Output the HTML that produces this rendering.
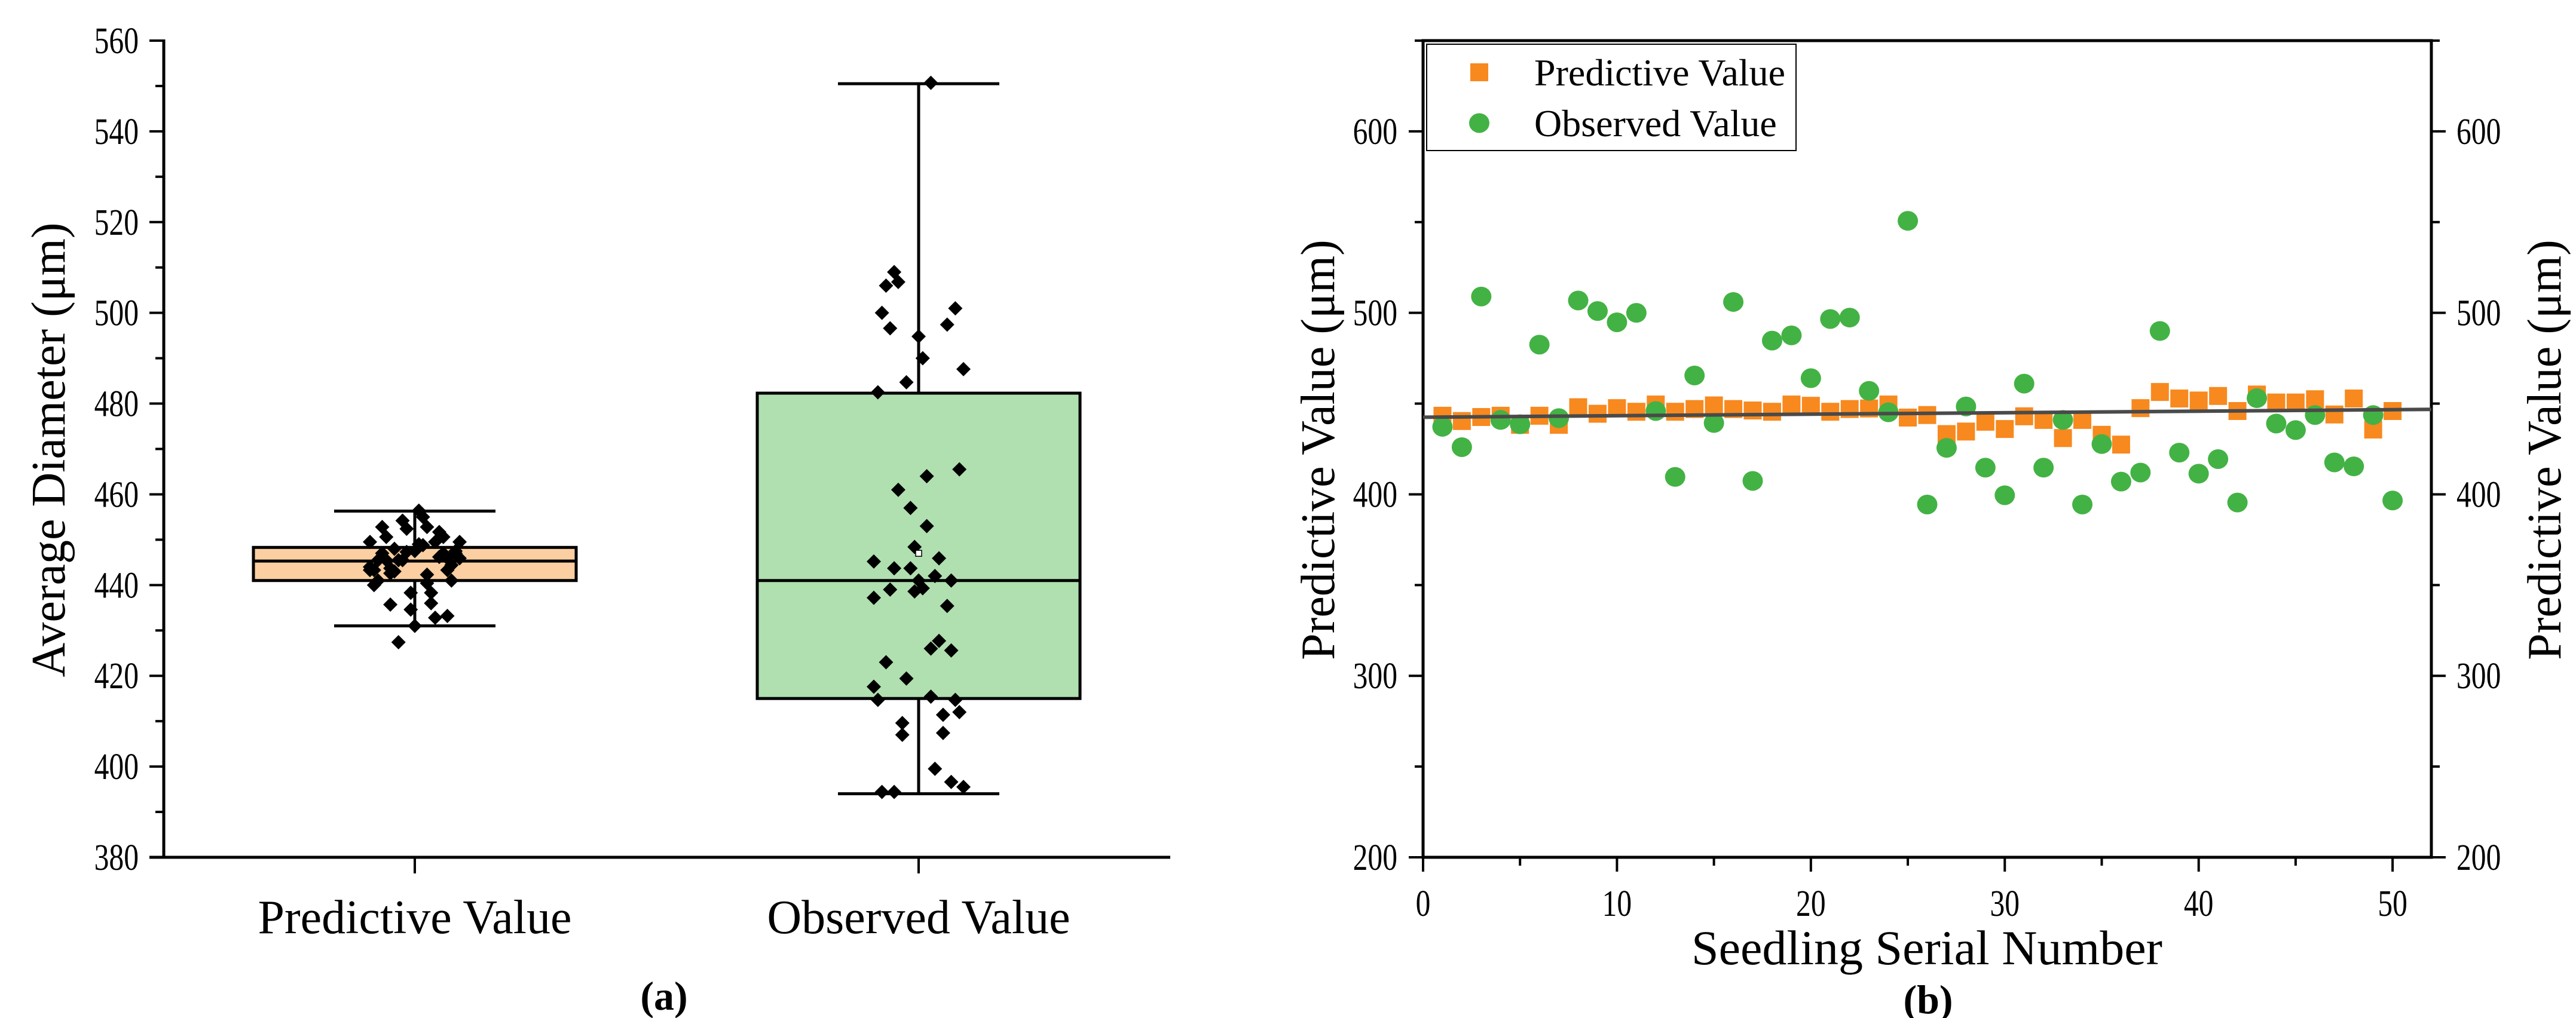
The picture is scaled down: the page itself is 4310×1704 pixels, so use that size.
<!DOCTYPE html>
<html><head><meta charset="utf-8"><style>
html,body{margin:0;padding:0;background:#fff;}
svg{display:block;font-family:"Liberation Serif",serif;}
</style></head><body>
<svg id="fig" width="4310" height="1704" viewBox="0 0 4310 1704" xmlns="http://www.w3.org/2000/svg">
<g id="pa"></g>
<g id="pb"></g>
</svg>
<script>
const serial = Array.from({length:50},(_,i)=>i+1);
const predictive = [443.3,440.4,442.6,443.3,438.3,443.3,438.3,448,444.4,447.5,445.5,449.5,445.5,447,449,447,446.2,445.5,449.5,448.8,445.5,447,447.3,449.5,442.3,443.7,433.2,434.6,440,436,443,441,431,441,432.8,427.4,447.5,456.4,452.8,451.7,454.2,445.9,455,450.6,450.6,452.4,444,452.8,435.7,445.9];
const observed = [437.2,426,509,441,438.6,482.5,442,506.8,501,494.8,500,445.9,409.6,465.5,439.3,506,407.4,484.7,487.6,464,496.6,497.4,457,445.2,550.7,394.4,425.6,448.4,414.7,399.5,461,414.7,441,394.4,427.7,407,412,490,423,411.4,419.4,395.5,453,439,435.4,443.7,417.6,415.4,443.7,396.6];
const boxCategories = ["Predictive Value","Observed Value"];
const boxQ1 = [441,415];
const boxQ3 = [448.3,482.3];
const boxMedian = [445.3,441];
const boxWhiskLo = [431,394];
const boxWhiskHi = [456.3,550.5];
const boxMean = [445,447];
const boxFill = ["#fbcfa1","#b0dfb0"];
const yTicksA = [380,400,420,440,460,480,500,520,540,560];
const xTicksB = [0,10,20,30,40,50];
const yTicksB = [200,300,400,500,600];
const trendStart = 442.5, trendEnd = 446.8;

const NS="http://www.w3.org/2000/svg";
function mk(parent,tag,attrs,text){const e=document.createElementNS(NS,tag);for(const k in attrs)e.setAttribute(k,attrs[k]);if(text!==undefined)e.textContent=text;parent.appendChild(e);return e;}
const TF=62;

// ---- Panel A ----
const A=document.getElementById('pa');
const ax0=274, ax1=1958, ay0=1435, ay1=68;
const yA=v=>ay0+(v-380)/(560-380)*(ay1-ay0);
const catX=[694,1537];
let e;
e=mk(A,'line',{x1:ax0,y1:ay1-2,x2:ax0,y2:ay0,stroke:'#000','stroke-width':5});

e=mk(A,'line',{x1:ax0-24,y1:ay0,x2:ax1,y2:ay0,stroke:'#000','stroke-width':5});

for(let v=380;v<=560;v+=10){const major=(v%20===0);mk(A,'line',{x1:ax0-(major?24:14),y1:yA(v),x2:ax0,y2:yA(v),stroke:'#000','stroke-width':4});}
yTicksA.forEach(v=>{e=mk(A,'text',{x:232,y:yA(v)+21,'font-size':TF,'text-anchor':'end',transform:`translate(232 0) scale(0.8 1) translate(-232 0)`},v);
});
e=mk(A,'text',{x:0,y:0,'font-size':80,'text-anchor':'middle',transform:'translate(108 753) rotate(-90)'},'Average Diameter (μm)');

boxCategories.forEach((c,i)=>{
  const cx=catX[i];
  mk(A,'line',{x1:cx,y1:ay0,x2:cx,y2:ay0+27,stroke:'#000','stroke-width':4});
  e=mk(A,'text',{x:cx,y:1562,'font-size':80,'text-anchor':'middle'},c);
  
  const hw=270, cw=135;
  e=mk(A,'line',{x1:cx,y1:yA(boxWhiskLo[i]),x2:cx,y2:yA(boxWhiskHi[i]),stroke:'#000','stroke-width':5});
  
  mk(A,'line',{x1:cx-cw,y1:yA(boxWhiskLo[i]),x2:cx+cw,y2:yA(boxWhiskLo[i]),stroke:'#000','stroke-width':5});
  mk(A,'line',{x1:cx-cw,y1:yA(boxWhiskHi[i]),x2:cx+cw,y2:yA(boxWhiskHi[i]),stroke:'#000','stroke-width':5});
  e=mk(A,'rect',{x:cx-hw,y:yA(boxQ3[i]),width:2*hw,height:yA(boxQ1[i])-yA(boxQ3[i]),fill:boxFill[i],stroke:'#000','stroke-width':5});
  
  mk(A,'line',{x1:cx-hw,y1:yA(boxMedian[i]),x2:cx+hw,y2:yA(boxMedian[i]),stroke:'#000','stroke-width':5});
  const vals=i?observed:predictive;
  vals.forEach((v,j)=>{
    const jit=(((j*37)%23)/22-0.5)*150;
    const px=cx+jit, py=yA(v), s=12;
    e=mk(A,'polygon',{points:`${px},${py-s} ${px+s},${py} ${px},${py+s} ${px-s},${py}`,fill:'#000'});
    
  });
  if(i===1){e=mk(A,'rect',{x:cx-5,y:yA(boxMean[i])-5,width:10,height:10,fill:'#fff',stroke:'#000','stroke-width':1.5});
  }
});
e=mk(A,'text',{x:1111,y:1690,'font-size':68,'font-weight':'bold','text-anchor':'middle'},'(a)');


// ---- Panel B ----
const B=document.getElementById('pb');
const bx0=2381, bx1=4068, by0=1435, by1=68;
const xB=v=>bx0+v/52*(bx1-bx0);
const yB=v=>by0+(v-200)/(650-200)*(by1-by0);
e=mk(B,'rect',{x:bx0,y:by1,width:bx1-bx0,height:by0-by1,fill:'none',stroke:'#000','stroke-width':5});

for(let v=200;v<=650;v+=50){const major=(v%100===0);const L=major?24:14;
  mk(B,'line',{x1:bx0-L,y1:yB(v),x2:bx0,y2:yB(v),stroke:'#000','stroke-width':4});
  mk(B,'line',{x1:bx1,y1:yB(v),x2:bx1+L,y2:yB(v),stroke:'#000','stroke-width':4});}
for(let v=0;v<=50;v+=5){const L=(v%10===0)?24:14;mk(B,'line',{x1:xB(v),y1:by0,x2:xB(v),y2:by0+L,stroke:'#000','stroke-width':4});}
yTicksB.forEach(v=>{
  e=mk(B,'text',{x:2338,y:yB(v)+21,'font-size':TF,'text-anchor':'end',transform:`translate(2338 0) scale(0.8 1) translate(-2338 0)`},v);
  
  e=mk(B,'text',{x:4110,y:yB(v)+21,'font-size':TF,'text-anchor':'start',transform:`translate(4110 0) scale(0.8 1) translate(-4110 0)`},v);
  });
xTicksB.forEach(v=>{e=mk(B,'text',{x:xB(v),y:1533,'font-size':TF,'text-anchor':'middle',transform:`translate(${xB(v)} 0) scale(0.8 1) translate(${-xB(v)} 0)`},v);
  });
e=mk(B,'text',{x:3224,y:1614,'font-size':82,'text-anchor':'middle'},'Seedling Serial Number');

e=mk(B,'text',{x:0,y:0,'font-size':80,'text-anchor':'middle',transform:'translate(2232 753) rotate(-90)'},'Predictive Value (μm)');

e=mk(B,'text',{x:0,y:0,'font-size':80,'text-anchor':'middle',transform:'translate(4284 753) rotate(-90)'},'Predictive Value (μm)');

serial.forEach((s,i)=>{
  const px=xB(s), py=yB(predictive[i]);
  e=mk(B,'rect',{x:px-15,y:py-15,width:30,height:30,fill:'#f7891f'});
  
});
serial.forEach((s,i)=>{
  e=mk(B,'ellipse',{cx:xB(s),cy:yB(observed[i]),rx:17,ry:16.5,fill:'#43b244'});
  
});
e=mk(B,'line',{x1:xB(0),y1:yB(trendStart),x2:xB(52),y2:yB(trendEnd),stroke:'#4a4a4a','stroke-width':6});

const lg=mk(B,'g',{});

mk(lg,'rect',{x:2387,y:74,width:618,height:178,fill:'#fff',stroke:'#000','stroke-width':2});
mk(lg,'rect',{x:2460,y:106,width:30,height:30,fill:'#f7891f'});
mk(lg,'ellipse',{cx:2475,cy:206,rx:17,ry:16.5,fill:'#43b244'});
e=mk(lg,'text',{x:2567,y:143,'font-size':64},'Predictive Value');

e=mk(lg,'text',{x:2567,y:228,'font-size':64},'Observed Value');

e=mk(B,'text',{x:3226,y:1696,'font-size':68,'font-weight':'bold','text-anchor':'middle'},'(b)');

</script>
</body></html>
